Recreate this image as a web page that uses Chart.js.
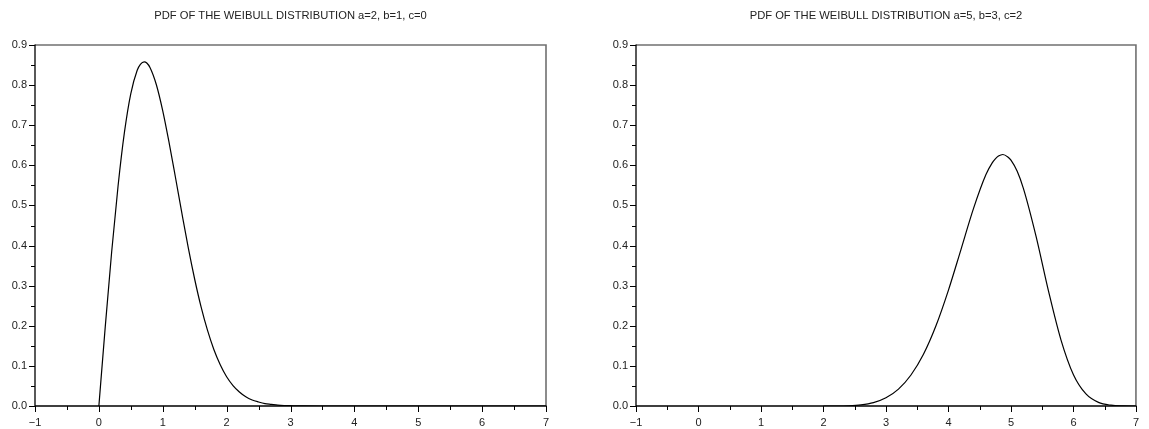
<!DOCTYPE html>
<html><head><meta charset="utf-8">
<script src="https://cdn.jsdelivr.net/npm/chart.js@4/dist/chart.umd.min.js"></script>
<style>
html,body{margin:0;padding:0;background:#fff;width:1149px;height:429px;overflow:hidden}
canvas{position:absolute;top:0}
</style></head><body>
<canvas id="c1" width="574" height="429" style="left:0"></canvas>
<canvas id="c2" width="575" height="429" style="left:574px"></canvas>
<script>
const leftTitle = 'PDF OF THE WEIBULL DISTRIBUTION a=2, b=1, c=0';
const rightTitle = 'PDF OF THE WEIBULL DISTRIBUTION a=5, b=3, c=2';
const xTickLabels = ['\u22121','0','1','2','3','4','5','6','7'];
const yTickLabels = ['0.0','0.1','0.2','0.3','0.4','0.5','0.6','0.7','0.8','0.9'];

const leftX = [0,0.1,0.2,0.3,0.4,0.5,0.6,0.65,0.71,0.75,0.8,0.9,1.0,1.1,1.2,1.3,1.4,1.5,1.6,1.7,1.8,1.9,2.0,2.1,2.2,2.3,2.4,2.5,2.6,2.7,2.8,2.9,3.0,3.2,3.5,4,5,6,7];
const leftY = [0,0.198,0.384,0.548,0.682,0.779,0.837,0.852,0.858,0.855,0.844,0.801,0.736,0.656,0.569,0.480,0.394,0.316,0.247,0.189,0.141,0.103,0.073,0.051,0.035,0.023,0.015,0.010,0.006,0.004,0.002,0.001,0.0007,0.0002,0,0,0,0,0];

const rightX = [2.0,2.2,2.4,2.6,2.8,3.0,3.2,3.4,3.6,3.8,4.0,4.2,4.4,4.6,4.7,4.75,4.8,4.87,4.95,5.0,5.1,5.2,5.4,5.6,5.8,6.0,6.2,6.4,6.6,6.8,7.0];
const rightY = [0,0,0.0005,0.0027,0.0084,0.0205,0.0422,0.0773,0.129,0.200,0.289,0.390,0.492,0.577,0.606,0.616,0.623,0.627,0.621,0.613,0.585,0.542,0.424,0.287,0.165,0.078,0.030,0.009,0.002,0.0003,0];

const FONT = '"Liberation Sans", Arial, sans-serif';

function frame(title){
  return {
    id:'frame',
    afterDraw(chart){
      const ctx = chart.ctx;
      const {left,right,top,bottom} = chart.chartArea;
      const xs = chart.scales.x, ys = chart.scales.y;
      ctx.save();
      ctx.strokeStyle = '#707070'; ctx.lineWidth = 1.6;
      ctx.beginPath(); ctx.moveTo(left, top); ctx.lineTo(right, top); ctx.lineTo(right, bottom); ctx.stroke();
      ctx.strokeStyle = '#000'; ctx.lineWidth = 1.3;
      ctx.beginPath(); ctx.moveTo(left, top - 0.5); ctx.lineTo(left, bottom); ctx.lineTo(right + 0.5, bottom); ctx.stroke();
      ctx.lineWidth = 1;
      ctx.beginPath();
      for (let i = 0; i < xTickLabels.length * 2 - 1; i++) {
        const v = -1 + i * 0.5;
        const px = Math.round(xs.getPixelForValue(v)) + 0.5;
        const len = (i % 2 === 0) ? 6 : 4;
        ctx.moveTo(px, bottom); ctx.lineTo(px, bottom + len);
      }
      for (let i = 0; i < yTickLabels.length * 2 - 1; i++) {
        const v = i * 0.05;
        const py = Math.round(ys.getPixelForValue(v)) + 0.5;
        const len = (i % 2 === 0) ? 6 : 4;
        ctx.moveTo(left, py); ctx.lineTo(left - len, py);
      }
      ctx.stroke();
      ctx.fillStyle = '#222';
      ctx.font = '11.2px ' + FONT;
      ctx.textAlign = 'center'; ctx.textBaseline = 'middle';
      ctx.fillText(title, (left + right) / 2, 16);
      ctx.restore();
    }
  };
}

function makeChart(id, xs, ys, title, yAxisWidth, padRight){
  return new Chart(document.getElementById(id), {
    type: 'line',
    data: { datasets: [{
      data: xs.map((x, i) => ({x: x, y: ys[i]})),
      borderColor: '#000', borderWidth: 1.2, pointRadius: 0,
      cubicInterpolationMode: 'monotone', fill: false
    }]},
    options: {
      responsive: false, animation: false,
      layout: { padding: { left: 0, right: padRight, top: 45, bottom: 0 } },
      plugins: { legend: { display: false }, tooltip: { enabled: false }, title: { display: false } },
      scales: {
        x: {
          type: 'linear', min: -1, max: 7,
          grid: { display: false, drawTicks: false, tickLength: 0 }, border: { display: false },
          ticks: { stepSize: 1, padding: 10, color: '#222', maxRotation: 0,
            font: { family: FONT, size: 11 },
            callback: (v) => xTickLabels[Math.round(v) + 1] },
          afterFit: (s) => { s.height = 23; }
        },
        y: {
          type: 'linear', min: 0, max: 0.9,
          grid: { display: false, drawTicks: false, tickLength: 0 }, border: { display: false },
          ticks: { stepSize: 0.1, padding: 8, color: '#222',
            font: { family: FONT, size: 11 },
            callback: (v) => yTickLabels[Math.round(v * 10)] },
          afterFit: (s) => { s.width = yAxisWidth; }
        }
      }
    },
    plugins: [frame(title)]
  });
}

makeChart('c1', leftX, leftY, leftTitle, 35, 28);
makeChart('c2', rightX, rightY, rightTitle, 62, 3);
</script>
</body></html>
